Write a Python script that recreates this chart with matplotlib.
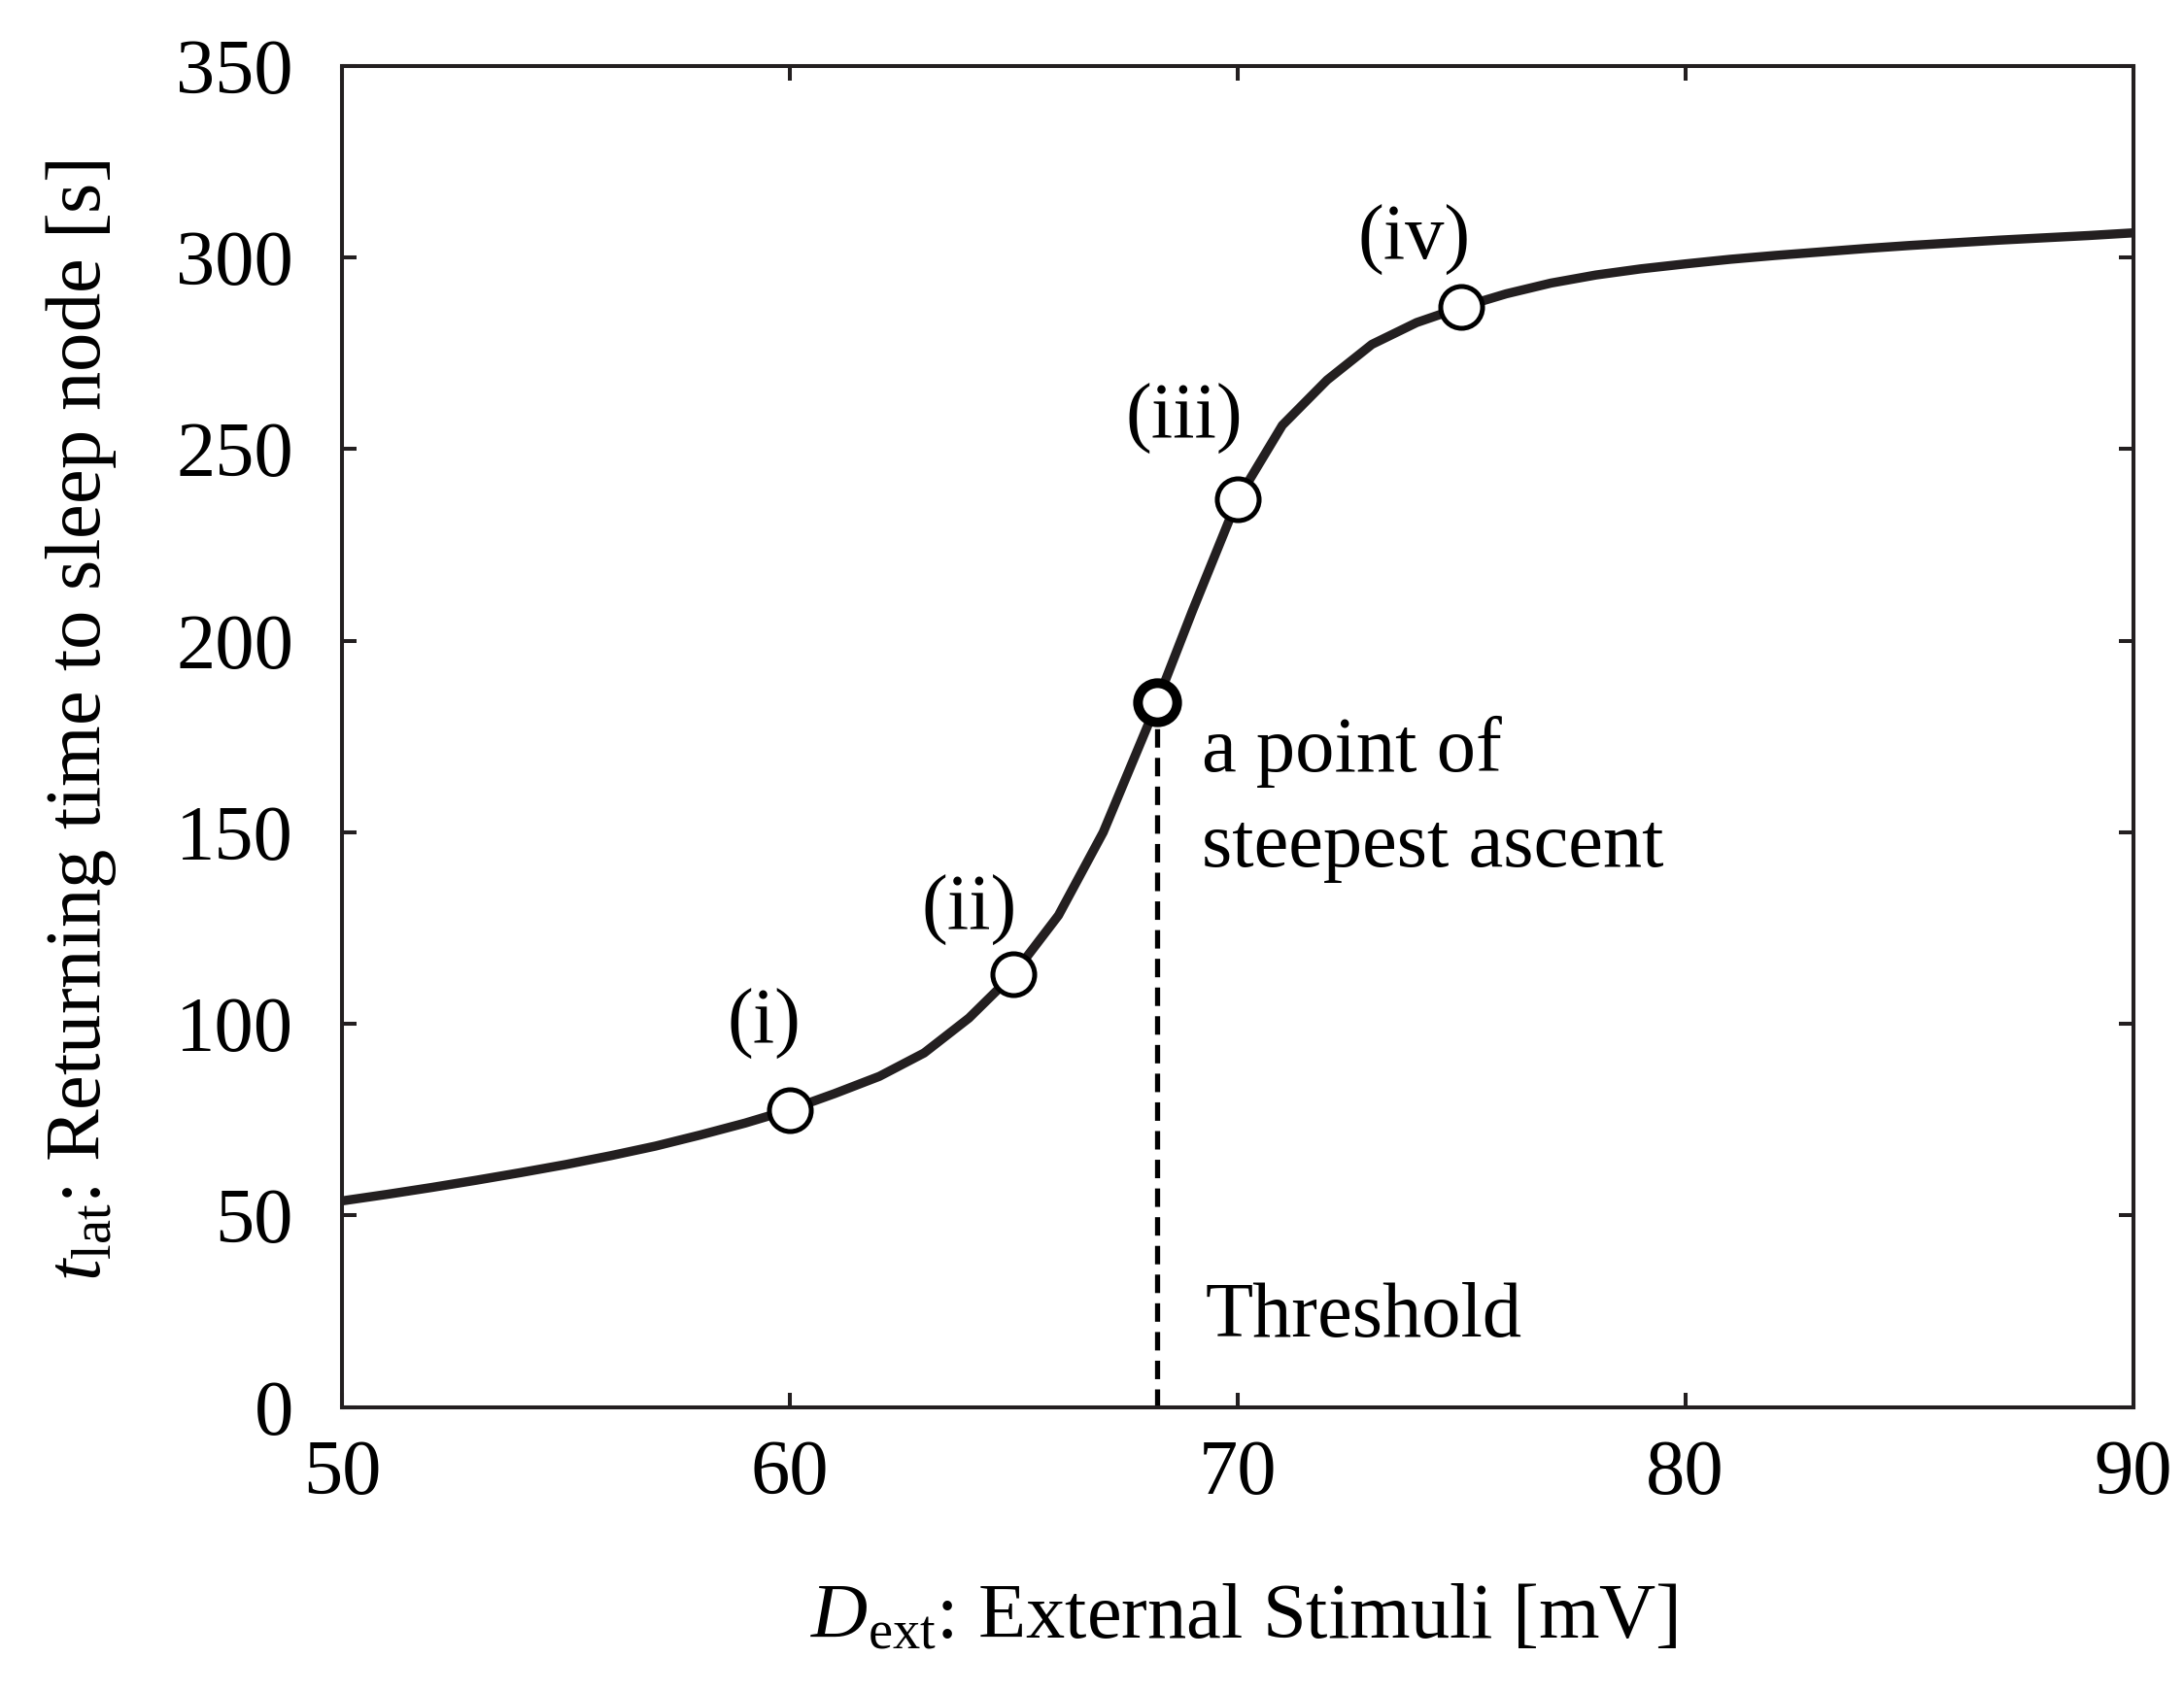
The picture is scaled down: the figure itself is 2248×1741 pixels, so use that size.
import matplotlib
matplotlib.use("Agg")
import matplotlib.pyplot as plt

plt.rcParams["font.family"] = ["Liberation Serif", "DejaVu Serif"]
plt.rcParams["mathtext.fontset"] = "custom"
plt.rcParams["mathtext.rm"] = "Liberation Serif"
plt.rcParams["mathtext.it"] = "Liberation Serif:italic"

# curve (1 mV steps)
d_ext = list(range(50, 91))
t_lat = [53.8, 55.5, 57.3, 59.2, 61.2, 63.3, 65.6, 68.1, 71.0, 74.1,
         77.6, 81.8, 86.3, 92.4, 101.5, 113.0, 128.3, 150.0, 178.0, 208.0,
         236.8, 256.2, 268.0, 277.3, 283.0, 287.0, 290.5, 293.3, 295.4, 297.0,
         298.3, 299.5, 300.5, 301.4, 302.3, 303.1, 303.8, 304.5, 305.1, 305.7,
         306.4]

# marked cases
case_x = [60, 65, 70, 75]
case_y = [77.6, 113.0, 237.0, 287.0]
case_labels = ["(i)", "(ii)", "(iii)", "(iv)"]

# steepest ascent
thr_x = 68.2
thr_y = 184.0

ink = "#231f20"
fs = 29

fig = plt.figure(figsize=(11.24, 8.705), dpi=200)
ax = fig.add_axes([0.1566, 0.1679, 0.9767 - 0.1566, 0.9611 - 0.1679])

ax.plot(d_ext, t_lat, color=ink, lw=3.4, zorder=2)
ax.plot([thr_x, thr_x], [0, thr_y], color="black", lw=1.9,
        dashes=(3.6, 2.0), zorder=1)
ax.plot(case_x, case_y, "o", ms=15.5, mfc="white", mec="black", mew=1.8,
        zorder=3)
ax.plot([thr_x], [thr_y], "o", ms=14.5, mfc="white", mec="black", mew=3.6,
        zorder=3)

# label offsets from each marker
offs = [(-0.58, 17.4), (-1.0, 11.7), (-1.2, 16.0), (-1.06, 12.5)]
for x, y, lab, (dx, dy) in zip(case_x, case_y, case_labels, offs):
    ax.text(x + dx, y + dy, lab, fontsize=fs, ha="center", va="baseline")

ax.text(69.2, 166, "a point of", fontsize=fs, va="baseline")
ax.text(69.2, 141, "steepest ascent", fontsize=fs, va="baseline")
ax.text(69.27, 18.4, "Threshold", fontsize=fs, va="baseline")

ax.set_xlim(50, 90)
ax.set_ylim(0, 350)
ax.set_xticks(range(50, 91, 10))
ax.set_yticks(range(0, 351, 50))
ax.tick_params(direction="in", length=5.4, width=1.45, labelsize=fs,
               top=True, right=True, colors=ink, labelcolor="black")
ax.tick_params(axis="y", pad=18)
ax.tick_params(axis="x", pad=12)
for s in ax.spines.values():
    s.set_linewidth(1.45)
    s.set_color(ink)

fig.text(0.5694, 0.0312, r"$D_{\mathrm{ext}}$: External Stimuli [mV]",
         fontsize=fs, ha="center", va="baseline")
fig.text(0.037, 0.574, r"$t_{\mathrm{lat}}$: Returning time to sleep node [s]",
         fontsize=fs, ha="center", va="center", rotation=90)

fig.savefig("out.png", dpi=200, facecolor="white")
